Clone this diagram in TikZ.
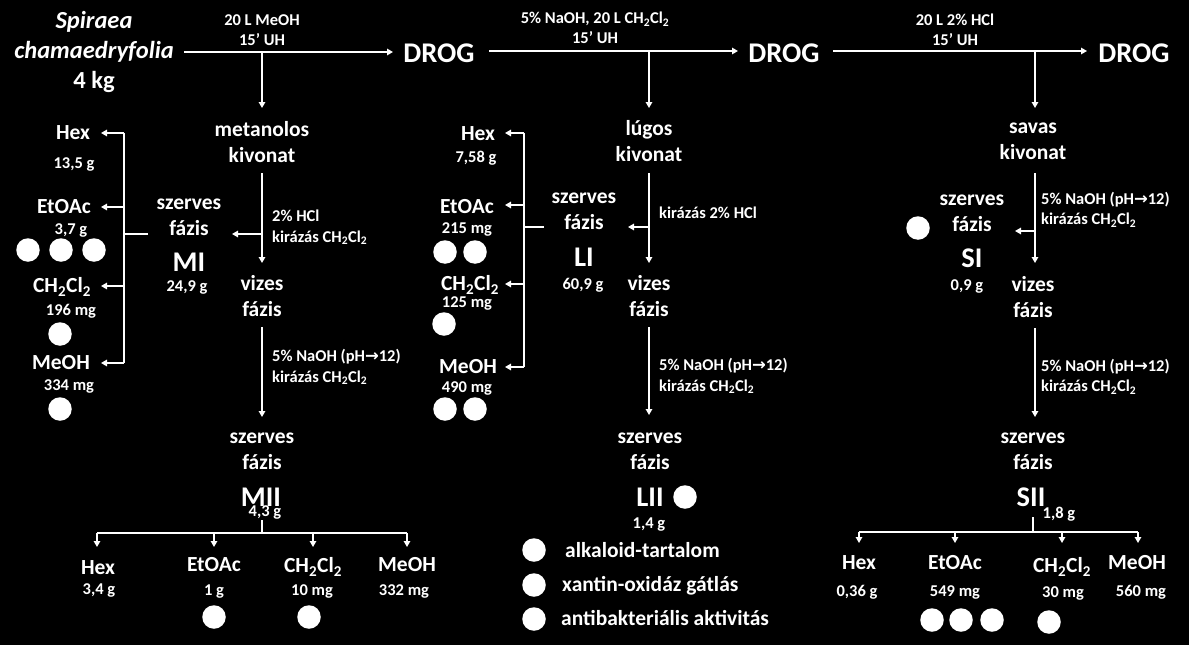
\documentclass[tikz,border=0pt]{standalone}
\usepackage{fontspec}
\setmainfont{Carlito}
\newfontfamily\dvfont{DejaVu Sans}
\usetikzlibrary{arrows.meta}
\newcommand\fxl{\fontsize{28.5}{32}\selectfont\bfseries}
\newcommand\flg{\fontsize{21.5}{26}\selectfont\bfseries}
\newcommand\fsm{\fontsize{16.5}{20.5}\selectfont\bfseries}
\newcommand\fsrc{\fontsize{24.5}{30}\selectfont\bfseries}
\newcommand\dcm{CH\textsubscript{2}Cl\textsubscript{2}}
\newcommand\phar{{\dvfont\bfseries →}}
\begin{document}
\begin{tikzpicture}[x=1pt,y=-1pt,
  every node/.style={text=white, inner sep=0pt, align=center},
  xl/.style={font=\fxl}, lg/.style={font=\flg}, sm/.style={font=\fsm},
  note/.style={font=\fsm, anchor=west, align=left},
  dot/.style={circle, fill=white, minimum size=23.5pt, inner sep=0pt},
  ln/.style={draw=white, line width=1.4pt},
  arr/.style={ln, -{Triangle[length=6pt,width=6.5pt]}}]
\fill[black] (0,0) rectangle (1189,645);
\useasboundingbox (0,0) rectangle (1189,645);

% ---------- top row ----------
\node[font=\fsrc] (src) at (94,52) {\textit{Spiraea}\\\textit{chamaedryfolia}\\4 kg};
\node[xl] (d1) at (439,53) {DROG};
\node[xl] (d2) at (784,53) {DROG};
\node[xl] (d3) at (1134,53) {DROG};
\node[sm] (t1) at (262,30) {20 L MeOH\\15’ UH};
\node[sm] (t2) at (595,28) {5\% NaOH, 20 L \dcm\\15’ UH};
\node[sm] (t3) at (955,30) {20 L 2\% HCl\\15’ UH};

\coordinate (a1s) at (184,52); \coordinate (a1e) at (393,52); \coordinate (a1j) at (262,52); \coordinate (m1in) at (262,108);
\coordinate (a2s) at (489,51); \coordinate (a2e) at (738,51); \coordinate (a2j) at (649,51); \coordinate (l1in) at (649,108);
\coordinate (a3s) at (833,51); \coordinate (a3e) at (1087,51); \coordinate (a3j) at (1035,51); \coordinate (s1in) at (1035,108);
\draw[arr] (a1s) -- (a1e); \draw[arr] (a1j) -- (m1in);
\draw[arr] (a2s) -- (a2e); \draw[arr] (a2j) -- (l1in);
\draw[arr] (a3s) -- (a3e); \draw[arr] (a3j) -- (s1in);

% ---------- column M ----------
\node[lg] (m1) at (262,142) {metanolos\\kivonat};
\node[note] (m1c) at (272,227.5) {2\% HCl\\kirázás \dcm};
\node[lg] (m2) at (189,217.5) {szerves\\fázis};
\node[xl] (MI) at (189,262) {MI};
\node[sm] (MIw) at (187,287) {24,9 g};
\node[lg] (m3) at (262,296.5) {vizes\\fázis};
\node[note] (m3c) at (272,367) {5\% NaOH (pH\phar12)\\kirázás \dcm};
\coordinate (m1o) at (262,173); \coordinate (m1x) at (262,263);
\coordinate (m1b) at (262,234); \coordinate (m2i) at (232,234);
\draw[arr] (m1o) -- (m1x); \draw[arr] (m1b) -- (m2i);
\coordinate (m3o) at (262,327); \coordinate (m4i) at (262,417);
\draw[arr] (m3o) -- (m4i);
% left tree M
\coordinate (mt0) at (148,234); \coordinate (mtj) at (124,234);
\coordinate (mtt) at (124,133); \coordinate (mtb) at (124,363);
\coordinate (mhx) at (101,133); \coordinate (mex) at (101,207);
\coordinate (mcx) at (101,286); \coordinate (mmx) at (101,363);
\draw[ln] (mt0) -- (mtj); \draw[ln] (mtt) -- (mtb);
\draw[arr] (mtt) -- (mhx); \draw[arr] (mtt |- mex) -- (mex);
\draw[arr] (mtt |- mcx) -- (mcx); \draw[arr] (mtb) -- (mmx);
\node[lg] (mHex) at (73,133) {Hex};
\node[sm] (mHexw) at (74,164) {13,5 g};
\node[lg] (mEt) at (64,207) {EtOAc};
\node[sm] (mEtw) at (71,230) {3,7 g};
\node[dot] (mEt1) at (28,250) {};
\node[dot] (mEt2) at (61,250) {};
\node[dot] (mEt3) at (94,250) {};
\node[lg] (mCH) at (62,287) {\dcm};
\node[sm] (mCHw) at (71,311) {196 mg};
\node[dot] (mCH1) at (60,334) {};
\node[lg] (mMe) at (61,363) {MeOH};
\node[sm] (mMew) at (69,386) {334 mg};
\node[dot] (mMe1) at (60,409) {};
% MII
\node[lg] (m4) at (262,451.5) {szerves\\fázis};
\node[xl] (MII) at (261,497) {MII};
\node[sm] (MIIw) at (265,512) {4,3 g};
\coordinate (mb0) at (262,520); \coordinate (mbj) at (262,533);
\coordinate (mbl) at (97,533); \coordinate (mbr) at (407,533);
\coordinate (mbH) at (97,547); \coordinate (mbE) at (214,547);
\coordinate (mbC) at (313,547); \coordinate (mbM) at (407,547);
\draw[ln] (mb0) -- (mbj); \draw[ln] (mbl) -- (mbr);
\draw[arr] (mbl) -- (mbH); \draw[arr] (mbE |- mbj) -- (mbE);
\draw[arr] (mbC |- mbj) -- (mbC); \draw[arr] (mbr) -- (mbM);
\node[lg] (bmHex) at (98,568) {Hex};
\node[sm] (bmHexw) at (99,590) {3,4 g};
\node[lg] (bmEt) at (214,565) {EtOAc};
\node[sm] (bmEtw) at (214,592) {1 g};
\node[dot] (bmEt1) at (214,617) {};
\node[lg] (bmCH) at (313,567) {\dcm};
\node[sm] (bmCHw) at (312,591) {10 mg};
\node[dot] (bmCH1) at (309,617) {};
\node[lg] (bmMe) at (407,565) {MeOH};
\node[sm] (bmMew) at (404,591) {332 mg};

% ---------- column L ----------
\node[lg] (l1) at (649,141.5) {lúgos\\kivonat};
\node[note] (l1c) at (659,213) {kirázás 2\% HCl};
\node[lg] (l2) at (584,211.5) {szerves\\fázis};
\node[xl] (LI) at (584,257) {LI};
\node[sm] (LIw) at (583,285) {60,9 g};
\node[lg] (l3) at (649,296.5) {vizes\\fázis};
\node[note] (l3c) at (659,376) {5\% NaOH (pH\phar12)\\kirázás \dcm};
\coordinate (l1o) at (649,173); \coordinate (l1x) at (649,263);
\coordinate (l1b) at (649,227); \coordinate (l2i) at (628,227);
\draw[arr] (l1o) -- (l1x); \draw[arr] (l1b) -- (l2i);
\coordinate (l3o) at (649,327); \coordinate (l4i) at (649,415);
\draw[arr] (l3o) -- (l4i);
\coordinate (lt0) at (544,227); \coordinate (ltj) at (524,227);
\coordinate (ltt) at (524,133); \coordinate (ltb) at (524,367);
\coordinate (lhx) at (505,133); \coordinate (lex) at (505,205);
\coordinate (lcx) at (505,284); \coordinate (lmx) at (505,367);
\draw[ln] (lt0) -- (ltj); \draw[ln] (ltt) -- (ltb);
\draw[arr] (ltt) -- (lhx); \draw[arr] (ltt |- lex) -- (lex);
\draw[arr] (ltt |- lcx) -- (lcx); \draw[arr] (ltb) -- (lmx);
\node[lg] (lHex) at (478,134) {Hex};
\node[sm] (lHexw) at (476,158) {7,58 g};
\node[lg] (lEt) at (467,207) {EtOAc};
\node[sm] (lEtw) at (467,229) {215 mg};
\node[dot] (lEt1) at (445,252) {};
\node[dot] (lEt2) at (475,252) {};
\node[lg] (lCH) at (470,285) {\dcm};
\node[sm] (lCHw) at (467,303) {125 mg};
\node[dot] (lCH1) at (444,324) {};
\node[lg] (lMe) at (468,367) {MeOH};
\node[sm] (lMew) at (467,388) {490 mg};
\node[dot] (lMe1) at (445,409) {};
\node[dot] (lMe2) at (475,409) {};
\node[lg] (l4) at (650,451.5) {szerves\\fázis};
\node[xl] (LII) at (650,497) {LII};
\node[dot] (LIId) at (685,497) {};
\node[sm] (LIIw) at (649,525) {1,4 g};
% legend
\node[dot] (g1) at (534,550) {};
\node[dot] (g2) at (534,585) {};
\node[dot] (g3) at (534,619) {};
\node[lg, anchor=base west] (g1t) at (565,557) {alkaloid-tartalom};
\node[lg, anchor=base west] (g2t) at (562,591) {xantin-oxidáz gátlás};
\node[lg, anchor=base west] (g3t) at (561,625) {antibakteriális aktivitás};

% ---------- column S ----------
\node[lg] (s1) at (1033,141.5) {savas\\kivonat};
\node[note] (s1c) at (1041,209.5) {5\% NaOH (pH\phar12)\\kirázás \dcm};
\node[dot] (SId) at (918,228) {};
\node[lg] (s2) at (972,213.5) {szerves\\fázis};
\node[xl] (SI) at (972,258) {SI};
\node[sm] (SIw) at (967,286) {0,9 g};
\node[lg] (s3) at (1033,297.5) {vizes\\fázis};
\node[note] (s3c) at (1041,376.5) {5\% NaOH (pH\phar12)\\kirázás \dcm};
\coordinate (s1o) at (1035,173); \coordinate (s1x) at (1035,263);
\coordinate (s1b) at (1035,231); \coordinate (s2i) at (1015,231);
\draw[arr] (s1o) -- (s1x); \draw[arr] (s1b) -- (s2i);
\coordinate (s3o) at (1035,328); \coordinate (s4i) at (1035,417);
\draw[arr] (s3o) -- (s4i);
\node[lg] (s4) at (1033,451.5) {szerves\\fázis};
\node[xl] (SII) at (1031,497) {SII};
\node[sm] (SIIw) at (1059,514) {1,8 g};
\coordinate (sb0) at (1033,517); \coordinate (sbj) at (1033,532);
\coordinate (sbl) at (859,532); \coordinate (sbr) at (1138,532);
\coordinate (sbH) at (859,543); \coordinate (sbE) at (955,543);
\coordinate (sbC) at (1062,543); \coordinate (sbM) at (1138,543);
\draw[ln] (sb0) -- (sbj); \draw[ln] (sbl) -- (sbr);
\draw[arr] (sbl) -- (sbH); \draw[arr] (sbE |- sbj) -- (sbE);
\draw[arr] (sbC |- sbj) -- (sbC); \draw[arr] (sbr) -- (sbM);
\node[lg] (bsHex) at (859,563) {Hex};
\node[sm] (bsHexw) at (857,592) {0,36 g};
\node[lg] (bsEt) at (955,563) {EtOAc};
\node[sm] (bsEtw) at (955,592) {549 mg};
\node[dot] (bsEt1) at (932,620) {};
\node[dot] (bsEt2) at (961,620) {};
\node[dot] (bsEt3) at (992,620) {};
\node[lg] (bsCH) at (1062,567) {\dcm};
\node[sm] (bsCHw) at (1063,593) {30 mg};
\node[dot] (bsCH1) at (1049,622) {};
\node[lg] (bsMe) at (1137,563) {MeOH};
\node[sm] (bsMew) at (1141,592) {560 mg};
\end{tikzpicture}
\end{document}
